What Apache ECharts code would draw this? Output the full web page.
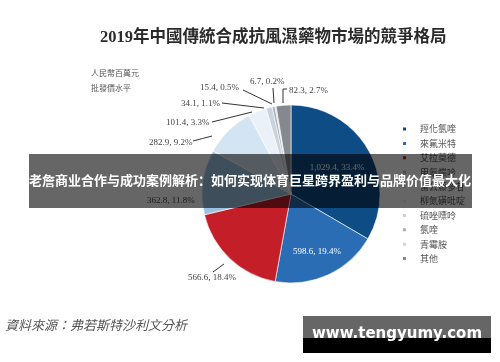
<!DOCTYPE html>
<html>
<head>
<meta charset="utf-8">
<script src="https://cdn.jsdelivr.net/npm/echarts@6/dist/echarts.min.js"></script>
<style>html,body{margin:0;padding:0;background:#fff;}#c{width:500px;height:362px;}</style>
</head>
<body>
<div id="c"></div>
<script>
const categories = ['羥化氯喹','來氟米特','艾拉莫德','甲氨蝶呤','雷公藤多苷','柳氮磺吡啶','硫唑嘌呤','氯喹','青霉胺','其他'];
const values = [1029.4, 598.6, 566.6, 362.8, 282.9, 101.4, 34.1, 15.4, 6.7, 82.3];
const colors = ['#0e4c86','#2a6db5','#c41f28','#9cc2e2','#d3e5f3','#ebf1f8','#c9d2dd','#a7b2c0','#d8d9c6','#85888d'];
const titleText = '2019年中國傳統合成抗風濕藥物市場的競爭格局';
const unitLines = ['人民幣百萬元','批發價水平'];
const sourceText = '資料來源：弗若斯特沙利文分析';
const bannerText = '老詹商业合作与成功案例解析：如何实现体育巨星跨界盈利与品牌价值最大化';
const watermarkText = 'www.tengyumy.com';

const labelPos = {
  0: {x: 337, y: 168, align: 'center'},
  1: {x: 317, y: 252, align: 'center'},
  2: {x: 188, y: 278, align: 'left', line: [[224,264],[218.5,268],[213,272]]},
  3: {x: 147, y: 201, align: 'left'},
  4: {x: 149, y: 143, align: 'left', line: [[212,136],[202.5,138.5],[193,141]]},
  5: {x: 166, y: 123, align: 'left', line: [[252,112],[232,117],[212,122]]},
  6: {x: 181, y: 104, align: 'left', line: [[264,108],[243,105.5],[222,103]]},
  7: {x: 200, y: 88, align: 'left', line: [[272,104],[257.5,97],[243,90]]},
  8: {x: 250, y: 82, align: 'left', line: [[274,103],[273.5,95],[273,88]]},
  9: {x: 289, y: 91, align: 'left', line: [[283,103],[283,89],[287,89]]}
};

function fmt(v){ return v.toLocaleString('en-US',{minimumFractionDigits:1,maximumFractionDigits:1}); }

const data = categories.map((n,i)=>{
  const d = {name:n, value:values[i], itemStyle:{color:colors[i]}};
  if (i < 2) { d.label = {color:'#fff'}; d.labelLine = {show:false}; }
  if (i === 3) { d.labelLine = {show:false}; }
  return d;
});

const chart = echarts.init(document.getElementById('c'), null, {renderer:'canvas'});
chart.setOption({
  backgroundColor:'#fff',
  animation:false,
  legend:{
    orient:'vertical', left:396, top:117,
    icon:'rect', itemWidth:5, itemHeight:5, itemGap:0.4,
    data:categories,
    textStyle:{fontSize:9, color:'#555', lineHeight:14, padding:[0,0,0,8], fontFamily:'Noto Sans CJK TC'},
    selectedMode:false
  },
  series:[{
    type:'pie',
    center:[291,194],
    radius:[0,89],
    startAngle:90,
    clockwise:true,
    data:data,
    itemStyle:{borderColor:'#fff', borderWidth:0.6},
    label:{
      show:true, position:'outside',
      fontFamily:'Liberation Serif', fontSize:9, color:'#444',
      formatter:p=>fmt(p.value)+', '+p.percent.toFixed(1)+'%'
    },
    labelLine:{show:true, lineStyle:{color:'#333', width:1}},
    labelLayout:function(p){
      const o = labelPos[p.dataIndex];
      const r = {x:o.x, y:o.y, align:o.align, verticalAlign:'middle'};
      if (o.line) r.labelLinePoints = o.line;
      return r;
    },
    emphasis:{disabled:true}
  }],
  graphic:[
    {type:'text', left:100, top:29, z:100, style:{text:titleText, font:'bold 16.5px "Liberation Serif", "Noto Sans CJK TC"', fill:'#2b2b2b'}},
    {type:'text', left:91, top:69, z:100, style:{text:unitLines[0], font:'8px "Noto Sans CJK TC"', fill:'#555'}},
    {type:'text', left:91, top:84, z:100, style:{text:unitLines[1], font:'8px "Noto Sans CJK TC"', fill:'#555'}},
    {type:'text', left:5, top:319, z:100, style:{text:sourceText, font:'italic 13px "Noto Sans CJK TC"', fill:'#555'}},
    {type:'rect', z:100, shape:{x:29, y:154, width:443, height:54}, style:{fill:'rgba(0,0,0,0.6)'}},
    {type:'text', z:101, x:250, y:180, style:{text:bannerText, font:'bold 13px "Noto Sans CJK SC"', fill:'#fff', align:'center', verticalAlign:'middle'}},
    {type:'rect', z:100, shape:{x:303, y:316, width:188, height:22}, style:{fill:'#666'}},
    {type:'rect', z:100, shape:{x:303, y:338, width:188, height:15}, style:{fill:'#000'}},
    {type:'text', z:101, x:397, y:334, style:{text:watermarkText, font:'bold 15px "DejaVu Sans"', fill:'#fff', align:'center', verticalAlign:'middle'}}
  ]
});
</script>
</body>
</html>
